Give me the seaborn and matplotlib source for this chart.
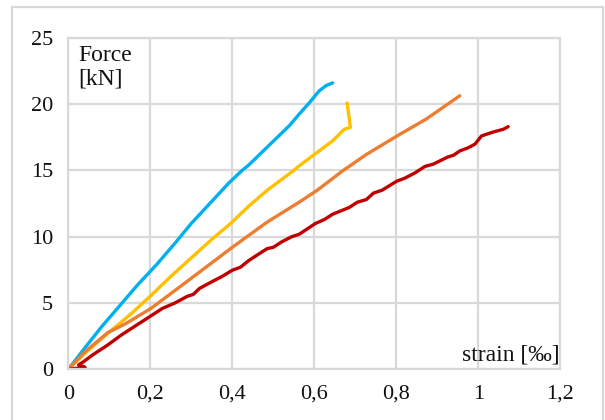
import numpy as np
import pandas as pd
import matplotlib
matplotlib.use("Agg")
import matplotlib.pyplot as plt
import seaborn as sns
from matplotlib.patches import Rectangle

# ---- data ----
blue_x = [0, 0.04, 0.081, 0.13, 0.17, 0.214, 0.26, 0.30, 0.348, 0.39, 0.424, 0.44, 0.47, 0.51, 0.54, 0.563, 0.588, 0.612, 0.629, 0.645]
blue_y = [0, 1.6, 3.2, 4.96, 6.4, 7.85, 9.5, 11.0, 12.6, 14.0, 15.0, 15.4, 16.3, 17.5, 18.4, 19.24, 20.1, 21.0, 21.4, 21.6]

yellow_x = [0, 0.04, 0.096, 0.15, 0.198, 0.25, 0.307, 0.35, 0.396, 0.44, 0.485, 0.55, 0.563, 0.612, 0.645, 0.673, 0.688, 0.685, 0.68]
yellow_y = [0, 1.2, 2.7, 4.1, 5.46, 7.0, 8.6, 9.8, 11.0, 12.3, 13.5, 15.0, 15.34, 16.47, 17.23, 18.1, 18.24, 19.0, 20.08]

orange_x = [0, 0.04, 0.096, 0.141, 0.202, 0.283, 0.34, 0.40, 0.485, 0.563, 0.607, 0.669, 0.727, 0.802, 0.873, 0.955]
orange_y = [0, 1.3, 2.76, 3.46, 4.6, 6.47, 7.8, 9.2, 11.1, 12.6, 13.5, 14.96, 16.2, 17.6, 18.87, 20.63]

red_x = [0, 0.041, 0.025, 0.037, 0.06, 0.096, 0.13, 0.165, 0.198, 0.23, 0.26, 0.29, 0.305, 0.32, 0.35,
         0.375, 0.40, 0.42, 0.44, 0.485, 0.50, 0.52, 0.545, 0.563, 0.603, 0.625, 0.645, 0.685, 0.705,
         0.727, 0.745, 0.765, 0.802, 0.82, 0.845, 0.87, 0.89, 0.925, 0.94, 0.955, 0.975,
         0.992, 1.008, 1.037, 1.061, 1.073]
red_y = [0, 0.15, 0.33, 0.57, 1.1, 1.83, 2.6, 3.3, 3.96, 4.6, 5.0, 5.5, 5.65, 6.1, 6.6,
         7.0, 7.47, 7.7, 8.2, 9.1, 9.2, 9.6, 10.0, 10.18, 11.0, 11.3, 11.7, 12.2, 12.6,
         12.8, 13.3, 13.5, 14.2, 14.4, 14.8, 15.3, 15.47, 16.0, 16.15, 16.47, 16.7,
         16.98, 17.6, 17.9, 18.1, 18.3]

series_names = ["blue", "yellow", "orange", "red"]
series_colors = ["#00B0F0", "#FFC000", "#ED7D31", "#C00000"]

x_ticks = [0, 0.2, 0.4, 0.6, 0.8, 1.0, 1.2]
x_tick_labels = ["0", "0,2", "0,4", "0,6", "0,8", "1", "1,2"]
y_ticks = [0, 5, 10, 15, 20, 25]
y_tick_labels = ["0", "5", "10", "15", "20", "25"]

# ---- long-form table ----
frames = []
for name, xs, ys in zip(series_names,
                        [blue_x, yellow_x, orange_x, red_x],
                        [blue_y, yellow_y, orange_y, red_y]):
    frames.append(pd.DataFrame({"strain": xs, "force": ys, "series": name}))
df = pd.concat(frames, ignore_index=True)

sns.set_theme(style="white")
plt.rcParams["font.family"] = ["Liberation Serif", "DejaVu Serif"]

fig = plt.figure(figsize=(6.05, 4.2), dpi=100)
ax = fig.add_axes([0.1129, 0.1207, 0.8131, 0.7893])

sns.lineplot(data=df, x="strain", y="force", hue="series", units="series",
             estimator=None, sort=False, palette=dict(zip(series_names, series_colors)),
             hue_order=series_names, linewidth=2.4, ax=ax, legend=False)

ax.set_xlim(0, 1.2)
ax.set_ylim(0, 25)
ax.set_xticks(x_ticks)
ax.set_xticklabels(x_tick_labels)
ax.set_yticks(y_ticks)
ax.set_yticklabels(y_tick_labels)
ax.tick_params(axis="both", length=0, labelsize=16, colors="#111111")
ax.tick_params(axis="x", pad=11)
ax.tick_params(axis="y", pad=11)
ax.set_xlabel("")
ax.set_ylabel("")
ax.grid(True, color="#D9D9D9", linewidth=1.6)
ax.set_axisbelow(True)
for s in ax.spines.values():
    s.set_color("#D9D9D9")
    s.set_linewidth(1.6)

ax.text(0.02, 0.978, "Force\n[kN]", transform=ax.transAxes, ha="left", va="top",
        fontsize=17, color="#111111", linespacing=1.15)
ax.text(0.998, 0.01, "strain [‰]", transform=ax.transAxes, ha="right", va="bottom",
        fontsize=17, color="#111111")

# outer chart border
fig.patches.append(Rectangle((12 / 605, -0.05), (603 - 12) / 605, 1.05 - 7 / 420,
                             transform=fig.transFigure, fill=False,
                             edgecolor="#D9D9D9", linewidth=1.6))

fig.savefig("out.png", dpi=100)
